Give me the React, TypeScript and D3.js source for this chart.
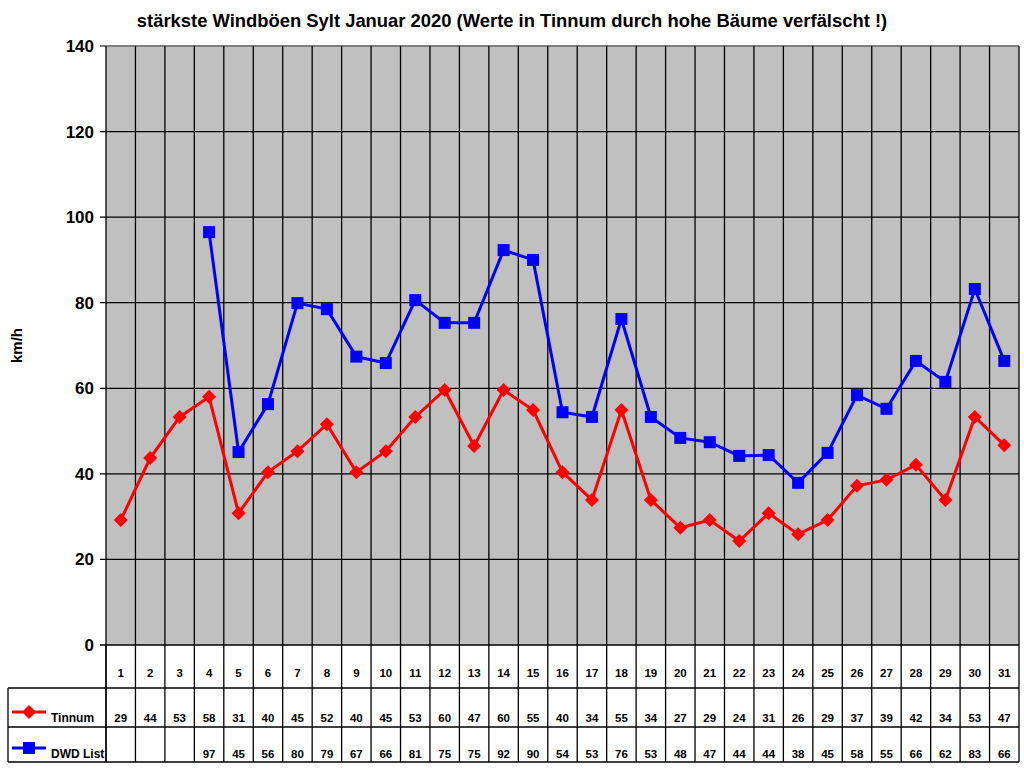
import * as d3 from "d3";

const days = d3.range(1, 32).map(String);
// plotted values (the table shows them rounded)
const tinnum = [29.2, 43.7, 53.3, 58.0, 30.8, 40.4, 45.3, 51.6, 40.4, 45.3, 53.3, 59.6, 46.5, 59.6, 54.9, 40.4, 33.9, 54.9, 33.9, 27.4, 29.2, 24.3, 30.8, 25.9, 29.2, 37.2, 38.6, 42.1, 33.9, 53.3, 46.7];
const dwd: (number | null)[] = [null, null, null, 96.5, 45.1, 56.3, 79.9, 78.5, 67.4, 65.9, 80.6, 75.3, 75.3, 92.3, 90.0, 54.4, 53.3, 76.2, 53.3, 48.4, 47.4, 44.2, 44.4, 37.9, 44.9, 58.4, 55.2, 66.4, 61.5, 83.2, 66.4];
const yTicks = [0, 20, 40, 60, 80, 100, 120, 140];

const W = 1024, H = 768;
const left = 106, right = 1019, top = 46, bottom = 645;
const rowY = [645, 688, 727, 762];
const font = "Arial, 'Liberation Sans', sans-serif";

export default function App() {
  const x = d3.scaleBand().domain(days).range([left, right]);
  const y = d3.scaleLinear().domain([0, 140]).range([bottom, top]);
  const cx = (i: number) => (x(days[i]) as number) + x.bandwidth() / 2;

  const line = d3.line<number | null>()
    .defined(d => d != null)
    .x((_, i) => cx(i))
    .y(d => y(d as number));

  const fmt = d3.format(".0f");
  const bounds = days.map(d => x(d) as number).concat(right);

  const series = [
    { name: "Tinnum", data: tinnum as (number | null)[], color: "#FF0000", shape: "diamond" },
    { name: "DWD List", data: dwd, color: "#0000FF", shape: "square" },
  ];

  const marker = (shape: string, px: number, py: number, color: string, key: string | number) =>
    shape === "diamond" ? (
      <path key={key} d={`M${px},${py - 7}L${px + 7},${py}L${px},${py + 7}L${px - 7},${py}Z`} fill={color} />
    ) : (
      <rect key={key} x={px - 6} y={py - 6} width={12} height={12} fill={color} />
    );

  return (
    <svg width={W} height={H} style={{ position: "absolute", left: 0, top: 0 }} fontFamily={font}>
      <rect width={W} height={H} fill="#fff" />
      <text x={512} y={27} textAnchor="middle" fontSize={18.4} fontWeight="bold">
        stärkste Windböen Sylt Januar 2020 (Werte in Tinnum durch hohe Bäume verfälscht !)
      </text>

      {/* plot area */}
      <rect x={left} y={top} width={right - left} height={bottom - top} fill="#C0C0C0" />
      {yTicks.map(t => (
        <g key={t}>
          <line x1={left - 6} x2={right} y1={y(t)} y2={y(t)} stroke={t === 140 ? "#808080" : "#000"} strokeWidth={t === 140 ? 2 : 1.3} />
          <text x={94} y={y(t) + 6} textAnchor="end" fontSize={17} fontWeight="bold">{t}</text>
        </g>
      ))}
      {bounds.map((b, i) => (
        <line key={i} x1={b} x2={b} y1={top} y2={rowY[3]} stroke="#000" strokeWidth={1.3} />
      ))}
      <text transform={`translate(22,${(top + bottom) / 2}) rotate(-90)`} textAnchor="middle" fontSize={15} fontWeight="bold">km/h</text>

      {/* series */}
      {series.map(s => (
        <g key={s.name}>
          <path d={line(s.data) as string} fill="none" stroke={s.color} strokeWidth={3} />
          {s.data.map((v, i) => (v == null ? null : marker(s.shape, cx(i), y(v), s.color, i)))}
        </g>
      ))}

      {/* data table */}
      <line x1={left} x2={left} y1={rowY[0]} y2={rowY[3]} stroke="#000" strokeWidth={1.3} />
      {rowY.slice(1).map((ry, i) => (
        <line key={i} x1={8} x2={right} y1={ry} y2={ry} stroke="#000" strokeWidth={1.3} />
      ))}
      <line x1={8} x2={8} y1={rowY[1]} y2={rowY[3]} stroke="#000" strokeWidth={1.3} />
      {days.map((d, i) => (
        <text key={d} x={cx(i)} y={677} textAnchor="middle" fontSize={11.5} fontWeight="bold">{d}</text>
      ))}
      {series.map((s, r) => {
        const baseY = r === 0 ? 722 : 758;
        const ly = r === 0 ? 712 : 748;
        return (
          <g key={s.name}>
            <line x1={12} x2={46} y1={ly} y2={ly} stroke={s.color} strokeWidth={3} />
            {marker(s.shape, 29, ly, s.color, "m")}
            <text x={51} y={baseY} fontSize={12} fontWeight="bold">{s.name}</text>
            {s.data.map((v, i) =>
              v == null ? null : (
                <text key={i} x={cx(i)} y={baseY} textAnchor="middle" fontSize={11.5} fontWeight="bold">{fmt(v)}</text>
              )
            )}
          </g>
        );
      })}
    </svg>
  );
}
